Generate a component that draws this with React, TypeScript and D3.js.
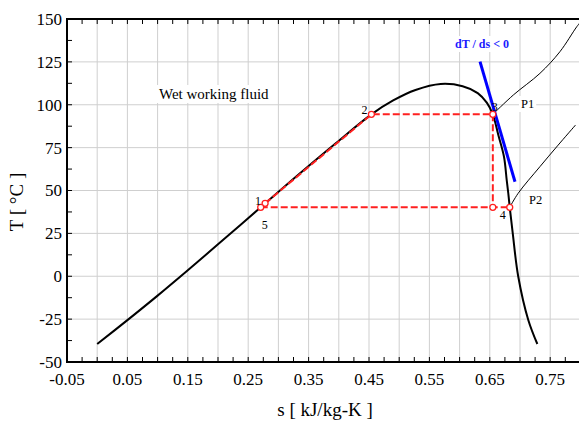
import React, { useEffect, useRef } from 'react';
import * as d3 from 'd3';

const W = 579;
const H = 423;

const xLabelTicks = [-0.05, 0.05, 0.15, 0.25, 0.35, 0.45, 0.55, 0.65, 0.75];
const xGridTicks = [0, 0.05, 0.1, 0.15, 0.2, 0.25, 0.3, 0.35, 0.4, 0.45, 0.5, 0.55, 0.6, 0.65, 0.7, 0.75];
const yTicks = [-50, -25, 0, 25, 50, 75, 100, 125, 150];

// saturation dome (s in kJ/kg-K, T in °C)
const domeS = [0.0, 0.05, 0.1, 0.15, 0.2, 0.2707, 0.33, 0.3965, 0.454, 0.49, 0.527, 0.5687, 0.605, 0.63, 0.645, 0.655, 0.664, 0.6735, 0.678, 0.6806, 0.683, 0.688, 0.697, 0.7137, 0.7287];
const domeT = [-39.5, -25.6, -11.3, 3.5, 18.6, 40.2, 58.3, 78.0, 94.4, 102.5, 108.6, 112.1, 110.8, 106.8, 101.2, 94.4, 82.5, 69.7, 56, 48.4, 40.2, 25, 0, -25.5, -39.5];

// isobars
const isoP1S = [0.655, 0.689, 0.733, 0.766, 0.794, 0.802];
const isoP1T = [94.4, 105.7, 118.3, 130.9, 145.5, 149];
const isoP2S = [0.683, 0.697, 0.733, 0.762, 0.792];
const isoP2T = [40.2, 48.4, 63.9, 76, 88.2];

// cycle state points
const stateNames = ['1', '2', '3', '3b', '4', '5'];
const stateS = [0.278, 0.454, 0.655, 0.655, 0.683, 0.2707];
const stateT = [42.5, 94.4, 94.4, 40.2, 40.2, 40.2];

// tangent line dT/ds < 0
const tangentS = [0.6338, 0.6917];
const tangentT = [125.1, 55.1];

const SERIF = "'Liberation Serif', 'Times New Roman', serif";

export default function App() {
  const ref = useRef<SVGSVGElement | null>(null);

  useEffect(() => {
    const svg = d3.select(ref.current);
    svg.selectAll('*').remove();

    const left = 67, top = 19, bottom = 362;
    const x = d3.scaleLinear().domain([-0.05, 0.8]).range([left, left + 0.85 * 604]);
    const y = d3.scaleLinear().domain([-50, 150]).range([bottom, top]);
    const right = W;

    const g = svg.append('g');

    // grid
    g.selectAll('line.vg').data(xGridTicks).enter().append('line')
      .attr('x1', d => x(d)).attr('x2', d => x(d)).attr('y1', top).attr('y2', bottom)
      .attr('stroke', '#cfcfcf').attr('stroke-width', 1);
    g.selectAll('line.hg').data(yTicks.slice(1, -1)).enter().append('line')
      .attr('x1', left).attr('x2', right).attr('y1', d => y(d)).attr('y2', d => y(d))
      .attr('stroke', '#cfcfcf').attr('stroke-width', 1);

    // annotation labels with white boxes
    const labels: { text: string; x: number; y: number; size: number; color?: string; bold?: boolean; box?: boolean }[] = [
      { text: 'Wet working fluid', x: 159, y: 99, size: 15, box: true },
      { text: 'dT / ds < 0', x: 455, y: 48, size: 12, color: '#1a1aff', bold: true, box: true },
      { text: 'P1', x: 521, y: 108, size: 12.5, box: true },
      { text: 'P2', x: 529, y: 204, size: 12.5, box: true },
    ];
    const boxLayer = g.append('g');
    const curveLayer = g.append('g');
    const textLayer = g.append('g');
    labels.forEach(l => {
      const t = textLayer.append('text')
        .attr('x', l.x).attr('y', l.y)
        .attr('font-family', SERIF).attr('font-size', l.size)
        .attr('font-weight', l.bold ? 'bold' : 'normal')
        .attr('fill', l.color || '#000')
        .text(l.text);
      if (l.box) {
        const bb = (t.node() as SVGTextElement).getBBox();
        boxLayer.append('rect')
          .attr('x', bb.x - 2).attr('y', bb.y - 1)
          .attr('width', bb.width + 4).attr('height', bb.height + 2)
          .attr('fill', '#fff');
      }
    });

    const line = d3.line<[number, number]>().x(d => x(d[0])).y(d => y(d[1])).curve(d3.curveCatmullRom.alpha(0.5));

    // isobars
    curveLayer.append('path').attr('d', line(isoP1S.map((s, i) => [s, isoP1T[i]]) as [number, number][]))
      .attr('fill', 'none').attr('stroke', '#000').attr('stroke-width', 1);
    curveLayer.append('path').attr('d', line(isoP2S.map((s, i) => [s, isoP2T[i]]) as [number, number][]))
      .attr('fill', 'none').attr('stroke', '#000').attr('stroke-width', 1);

    // dome
    curveLayer.append('path').attr('d', line(domeS.map((s, i) => [s, domeT[i]]) as [number, number][]))
      .attr('fill', 'none').attr('stroke', '#000').attr('stroke-width', 2);

    // cycle
    const pt = (name: string): [number, number] => {
      const i = stateNames.indexOf(name);
      return [stateS[i], stateT[i]];
    };
    const straight = d3.line<[number, number]>().x(d => x(d[0])).y(d => y(d[1]));
    curveLayer.append('path').attr('d', straight([pt('1'), pt('2'), pt('3'), pt('3b')]))
      .attr('fill', 'none').attr('stroke', '#ff2020').attr('stroke-width', 2).attr('stroke-dasharray', '7,3');
    curveLayer.append('path').attr('d', straight([pt('5'), pt('4')]))
      .attr('fill', 'none').attr('stroke', '#ff2020').attr('stroke-width', 2).attr('stroke-dasharray', '7,3');

    // tangent
    curveLayer.append('path').attr('d', straight(tangentS.map((s, i) => [s, tangentT[i]]) as [number, number][]))
      .attr('fill', 'none').attr('stroke', '#0000ff').attr('stroke-width', 3);

    // state circles
    curveLayer.selectAll('circle').data(stateS).enter().append('circle')
      .attr('cx', d => x(d)).attr('cy', (d, i) => y(stateT[i])).attr('r', 3)
      .attr('fill', '#fff').attr('stroke', '#ff2020').attr('stroke-width', 1.3);

    // state labels
    const stLabels: { name: string; dx: number; dy: number }[] = [
      { name: '1', dx: -10, dy: 2 },
      { name: '2', dx: -10, dy: 0 },
      { name: '3', dx: -1, dy: -3 },
      { name: '4', dx: -10, dy: 12 },
      { name: '5', dx: 1, dy: 22 },
    ];
    stLabels.forEach(l => {
      const [s, T] = pt(l.name);
      textLayer.append('text').attr('x', x(s) + l.dx).attr('y', y(T) + l.dy)
        .attr('font-family', SERIF).attr('font-size', 12).attr('fill', '#000').text(l.name);
    });

    // axes frame
    const axis = g.append('g');
    axis.append('line').attr('x1', left).attr('x2', left).attr('y1', top - 1).attr('y2', bottom + 1)
      .attr('stroke', '#000').attr('stroke-width', 2);
    axis.append('line').attr('x1', left - 1).attr('x2', right).attr('y1', bottom).attr('y2', bottom)
      .attr('stroke', '#000').attr('stroke-width', 2);
    axis.append('line').attr('x1', left - 1).attr('x2', right).attr('y1', top).attr('y2', top)
      .attr('stroke', '#000').attr('stroke-width', 2);

    // ticks
    const xMinor = d3.range(-0.05, 0.8001, 0.025);
    xMinor.forEach(v => {
      axis.append('line').attr('x1', x(v)).attr('x2', x(v)).attr('y1', bottom).attr('y2', bottom - 5)
        .attr('stroke', '#000').attr('stroke-width', 1);
      axis.append('line').attr('x1', x(v)).attr('x2', x(v)).attr('y1', top).attr('y2', top + 5)
        .attr('stroke', '#000').attr('stroke-width', 1);
    });
    const yMinor = d3.range(-50, 150.01, 12.5);
    yMinor.forEach(v => {
      axis.append('line').attr('x1', left).attr('x2', left + 5).attr('y1', y(v)).attr('y2', y(v))
        .attr('stroke', '#000').attr('stroke-width', 1);
    });

    // tick labels
    axis.selectAll('text.xl').data(xLabelTicks).enter().append('text')
      .attr('x', d => x(d)).attr('y', 385).attr('text-anchor', 'middle')
      .attr('font-family', SERIF).attr('font-size', 17).attr('fill', '#000')
      .text(d => d.toFixed(2));
    axis.selectAll('text.yl').data(yTicks).enter().append('text')
      .attr('x', 62).attr('y', d => y(d)).attr('dy', '0.35em').attr('text-anchor', 'end')
      .attr('font-family', SERIF).attr('font-size', 17).attr('fill', '#000')
      .text(d => String(d));

    // axis titles
    axis.append('text').attr('x', 325).attr('y', 416).attr('text-anchor', 'middle')
      .attr('font-family', SERIF).attr('font-size', 19).attr('fill', '#000')
      .text('s [ kJ/kg-K ]');
    axis.append('text').attr('transform', 'translate(23,202) rotate(-90)').attr('text-anchor', 'middle')
      .attr('font-family', SERIF).attr('font-size', 19).attr('fill', '#000')
      .text('T [ °C ]');
  }, []);

  return (
    <svg ref={ref} width={W} height={H}
      style={{ position: 'absolute', left: 0, top: 0, background: '#fff' }} />
  );
}
